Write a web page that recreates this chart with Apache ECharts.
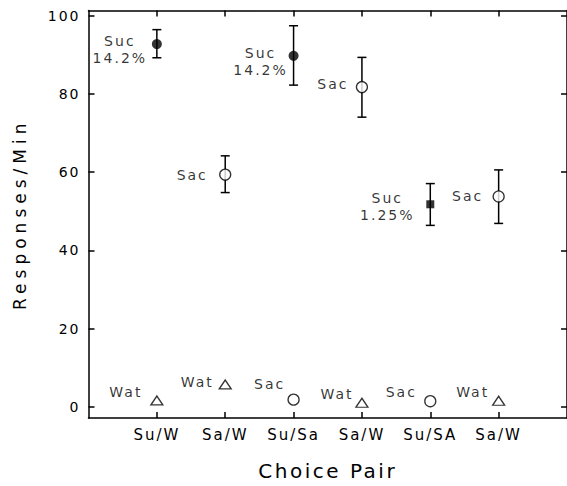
<!DOCTYPE html>
<html>
<head>
<meta charset="utf-8">
<title>Responses per minute by choice pair</title>
<script src="https://cdn.jsdelivr.net/npm/echarts@6/dist/echarts.min.js"></script>
<style>
html, body { margin: 0; padding: 0; background: #fff; }
#chart { width: 567px; height: 486px; }
#chart text { letter-spacing: 2px; }
</style>
</head>
<body>
<div id="chart"></div>
<script>
var categories = ['Su/W', 'Sa/W', 'Su/Sa', 'Sa/W', 'Su/SA', 'Sa/W'];
var yTicks = [0, 20, 40, 60, 80, 100];

// upper point of each pair, with its error bar
var upperMean  = [92.8, 59.4, 89.8, 81.8, 51.8, 53.8];
var upperErrLo = [89.3, 54.8, 82.3, 74.1, 46.4, 46.9];
var upperErrHi = [96.5, 64.2, 97.5, 89.4, 57.1, 60.6];
var upperName  = ['Suc\n14.2%', 'Sac', 'Suc\n14.2%', 'Sac', 'Suc\n1.25%', 'Sac'];
var upperMarker = ['dot', 'ring', 'dot', 'ring', 'square', 'ring'];

// lower point of each pair
var lowerMean = [1.6, 5.7, 1.8, 1.0, 1.4, 1.5];
var lowerName = ['Wat', 'Wat', 'Sac', 'Wat', 'Sac', 'Wat'];
var lowerMarker = ['tri', 'tri', 'ring', 'tri', 'ring', 'tri'];

// where each text sits relative to its point (px)
var upperLabelOffset = [[-37, 5], [-33, 0], [-33, 6], [-29, -3], [-43, 2], [-31, 0]];
var lowerLabelOffset = [[-31, -8], [-28, -2], [-24, -16], [-25, -9], [-29, -9], [-26, -9]];

var FONT = 'DejaVu Sans';
var catPos = categories.map(function (c, i) { return i + 1; });

var markerStyle = {
    dot:    { symbol: 'circle', symbolSize: 10, itemStyle: { color: '#000' } },
    ring:   { symbol: 'circle', symbolSize: 11, itemStyle: { color: '#fff', borderColor: '#000', borderWidth: 1.3 } },
    square: { symbol: 'rect', symbolSize: 8, itemStyle: { color: '#000' } },
    tri:    { symbol: 'triangle', symbolSize: [12, 9], itemStyle: { color: '#fff', borderColor: '#000', borderWidth: 1.3 } }
};

function make_point(i, v, kind, text, off) {
    var m = markerStyle[kind];
    return {
        value: [i + 1, v],
        symbol: m.symbol,
        symbolSize: m.symbolSize,
        itemStyle: m.itemStyle,
        label: {
            show: true,
            formatter: text,
            position: 'inside',
            align: 'center',
            verticalAlign: 'middle',
            offset: off,
            color: '#000',
            fontFamily: FONT,
            fontSize: 14,
            lineHeight: 17
        }
    };
}

var points = [];
var errBars = [];
for (var i = 0; i < categories.length; i++) {
    points.push(make_point(i, upperMean[i], upperMarker[i], upperName[i], upperLabelOffset[i]));
    points.push(make_point(i, lowerMean[i], lowerMarker[i], lowerName[i], lowerLabelOffset[i]));
    errBars.push([i + 1, upperErrLo[i], upperErrHi[i]]);
}

var black = { color: '#000', width: 1.5 };

function render_err(params, api) {
    var x = api.value(0);
    var lo = api.coord([x, api.value(1)]);
    var hi = api.coord([x, api.value(2)]);
    var w = 4.5;
    var st = { stroke: '#000', lineWidth: 1.5 };
    return {
        type: 'group',
        children: [
            { type: 'line', shape: { x1: lo[0], y1: lo[1], x2: hi[0], y2: hi[1] }, style: st },
            { type: 'line', shape: { x1: lo[0] - w, y1: lo[1], x2: lo[0] + w, y2: lo[1] }, style: st },
            { type: 'line', shape: { x1: hi[0] - w, y1: hi[1], x2: hi[0] + w, y2: hi[1] }, style: st }
        ]
    };
}

var option = {
    animation: false,
    backgroundColor: '#fff',
    grid: { left: 88.5, right: -4, top: 10.5, bottom: 63.5 },
    xAxis: [
        {
            type: 'value', min: 0, max: 7, position: 'bottom',
            axisLine: { show: true, onZero: false, lineStyle: black },
            axisTick: { show: true, inside: true, length: 6, customValues: catPos, lineStyle: black },
            axisLabel: {
                customValues: catPos,
                formatter: function (v) { return categories[v - 1]; },
                color: '#000', fontFamily: FONT, fontSize: 15, margin: 9
            },
            splitLine: { show: false },
            name: 'Choice Pair', nameLocation: 'middle', nameGap: 43,
            nameTextStyle: { color: '#000', fontFamily: FONT, fontSize: 20 }
        },
        {
            type: 'value', min: 0, max: 7, position: 'top',
            axisLine: { show: true, onZero: false, lineStyle: black },
            axisTick: { show: true, inside: true, length: 6, customValues: catPos, lineStyle: black },
            axisLabel: { show: false },
            splitLine: { show: false }
        }
    ],
    yAxis: [
        {
            type: 'value', min: -2.9, max: 101.4, position: 'left',
            axisLine: { show: true, onZero: false, lineStyle: black },
            axisTick: { show: true, inside: true, length: 6, customValues: yTicks, lineStyle: black },
            axisLabel: { customValues: yTicks, color: '#000', fontFamily: FONT, fontSize: 14, margin: 8 },
            splitLine: { show: false },
            name: 'Responses/Min', nameLocation: 'middle', nameGap: 60, nameRotate: 90,
            nameTextStyle: { color: '#000', fontFamily: FONT, fontSize: 17 }
        },
        {
            type: 'value', min: -2.9, max: 101.4, position: 'right',
            axisLine: { show: true, onZero: false, lineStyle: black },
            axisTick: { show: true, inside: true, length: 6, customValues: yTicks, lineStyle: black },
            axisLabel: { show: false },
            splitLine: { show: false }
        }
    ],
    series: [
        {
            type: 'custom',
            renderItem: render_err,
            data: errBars,
            encode: { x: 0, y: [1, 2] },
            z: 2
        },
        {
            type: 'scatter',
            data: points,
            z: 3
        }
    ]
};

var myChart = echarts.init(document.getElementById('chart'), null, { renderer: 'svg' });
myChart.setOption(option);

// the axis titles in the original are set very loosely
document.querySelectorAll('#chart text').forEach(function (t) {
    if (t.textContent === 'Responses/Min') t.style.letterSpacing = '5px';
    if (t.textContent === 'Choice Pair') t.style.letterSpacing = '2.5px';
});
</script>
</body>
</html>
